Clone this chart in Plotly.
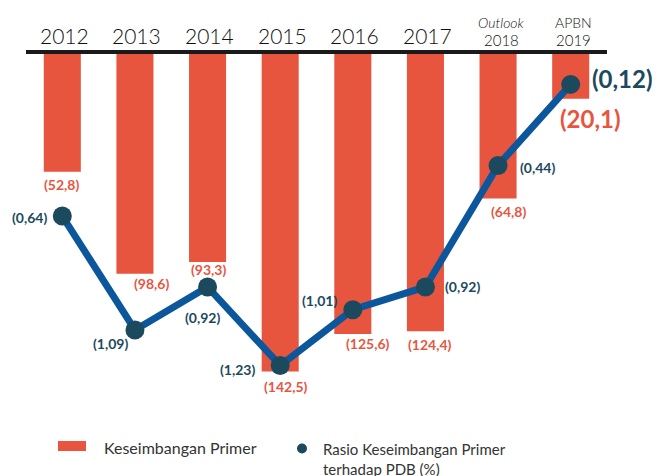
import plotly.graph_objects as go

# ---------------- data ----------------
categories = ["2012", "2013", "2014", "2015", "2016", "2017", "2018", "2019"]
cat_main = ["2012", "2013", "2014", "2015", "2016", "2017", "2018", "2019"]
cat_sub = ["", "", "", "", "", "", "<i>Outlook</i>", "APBN"]
primary_balance = [52.8, 98.6, 93.3, 142.5, 125.6, 124.4, 64.8, 20.1]   # triliun Rp (defisit)
ratio_pdb = [0.64, 1.09, 0.92, 1.23, 1.01, 0.92, 0.44, 0.12]            # % PDB (defisit)

bar_text = ["(" + f"{v:.1f}".replace(".", ",") + ")" for v in primary_balance]
ratio_text = ["(" + f"{v:.2f}".replace(".", ",") + ")" for v in ratio_pdb]

# ---------------- style ----------------
OFF = 8                      # page body margin of the html page
W, H = 660 - OFF, 476 - OFF
L, R, T, B = 26 - OFF, 53, 54 - OFF, 76
PW, PH = W - L - R, H - T - B

RED = "#E8553F"
BLUE = "#0C579C"
DARK = "#1B4A5E"
TXT = "#111111"
FONT = "Lato"

bar_off = [(-1, 13), (17, 10), (1, 8), (6, 15), (15, 10), (5, 13), (10, 13), (20, 20)]
line_off = [(-33, 1), (-24, 14), (-5, 31), (-43, 4), (-33, -9), (37, 0), (39, 2), (52, -6)]
big = [False] * 7 + [True]


def px_x(x):
    """reference-picture x pixel -> paper coordinate"""
    return (x - OFF - L) / PW


def px_y(y):
    """reference-picture y pixel -> paper coordinate"""
    return (H - B - (y - OFF)) / PH


fig = go.Figure()
fig.add_trace(go.Bar(
    x=categories, y=[-v for v in primary_balance], marker_color=RED,
    marker_line_width=0, name="Keseimbangan Primer", showlegend=False,
    hoverinfo="skip"))
fig.add_trace(go.Scatter(
    x=categories, y=[-v for v in ratio_pdb], yaxis="y2", mode="lines+markers",
    line=dict(color=BLUE, width=7), marker=dict(color=DARK, size=19),
    name="Rasio Keseimbangan Primer terhadap PDB (%)", showlegend=False,
    hoverinfo="skip"))

ann = []
for i, c in enumerate(categories):
    dx, dy = bar_off[i]
    ann.append(dict(x=i, y=-primary_balance[i], xref="x", yref="y",
                    text=f"<b>{bar_text[i]}</b>", showarrow=False,
                    xshift=dx, yshift=-dy, xanchor="center", yanchor="middle",
                    font=dict(family=FONT, size=24 if big[i] else 14, color=RED)))
    dx, dy = line_off[i]
    ann.append(dict(x=i, y=-ratio_pdb[i], xref="x", yref="y2",
                    text=f"<b>{ratio_text[i]}</b>", showarrow=False,
                    xshift=dx, yshift=-dy, xanchor="center", yanchor="middle",
                    font=dict(family=FONT, size=24 if big[i] else 14, color=DARK)))
    # category labels
    if cat_sub[i]:
        ann.append(dict(x=i, y=px_y(23), xref="x", yref="paper", text=cat_sub[i],
                        showarrow=False, xshift=3, yanchor="middle",
                        font=dict(family=FONT, size=14, color=TXT, weight=300)))
        ann.append(dict(x=i, y=px_y(40), xref="x", yref="paper", text=cat_main[i],
                        showarrow=False, xshift=3, yanchor="middle",
                        font=dict(family=FONT, size=15, color=TXT, weight=300)))
    else:
        ann.append(dict(x=i, y=px_y(36), xref="x", yref="paper", text=cat_main[i],
                        showarrow=False, xshift=2, yanchor="middle",
                        font=dict(family=FONT, size=21, color=TXT, weight=300)))

# manual legend
ann.append(dict(x=px_x(102), y=px_y(447), xref="paper", yref="paper",
                text="Keseimbangan Primer", showarrow=False, xanchor="left",
                yanchor="middle", font=dict(family=FONT, size=16, color="#333333")))
ann.append(dict(x=px_x(321), y=px_y(438), xref="paper", yref="paper",
                text="Rasio Keseimbangan Primer<br>terhadap PDB (%)",
                showarrow=False, xanchor="left", yanchor="top", align="left",
                font=dict(family=FONT, size=15, color="#333333")))

shapes = [
    dict(type="rect", xref="paper", yref="paper", x0=px_x(58), x1=px_x(86),
         y0=px_y(451), y1=px_y(441), fillcolor=RED, line_width=0),
    dict(type="circle", xref="paper", yref="paper", x0=px_x(297), x1=px_x(307),
         y0=px_y(453.5), y1=px_y(443.5), fillcolor=DARK, line_width=0),
]

fig.update_layout(
    width=W, height=H, margin=dict(l=L, r=R, t=T, b=B),
    paper_bgcolor="white", plot_bgcolor="white",
    bargap=0.49,
    xaxis=dict(type="category", side="top", showline=True, linewidth=4,
               linecolor="#1A1A1A", showticklabels=False, ticks="",
               showgrid=False, zeroline=False, range=[-0.5, 7.5]),
    yaxis=dict(range=[-155.27, 0], visible=False, showgrid=False, zeroline=False),
    yaxis2=dict(range=[-1.3665, 0], overlaying="y", visible=False,
                showgrid=False, zeroline=False),
    annotations=ann, shapes=shapes, showlegend=False,
)

fig.write_html("out.html")
